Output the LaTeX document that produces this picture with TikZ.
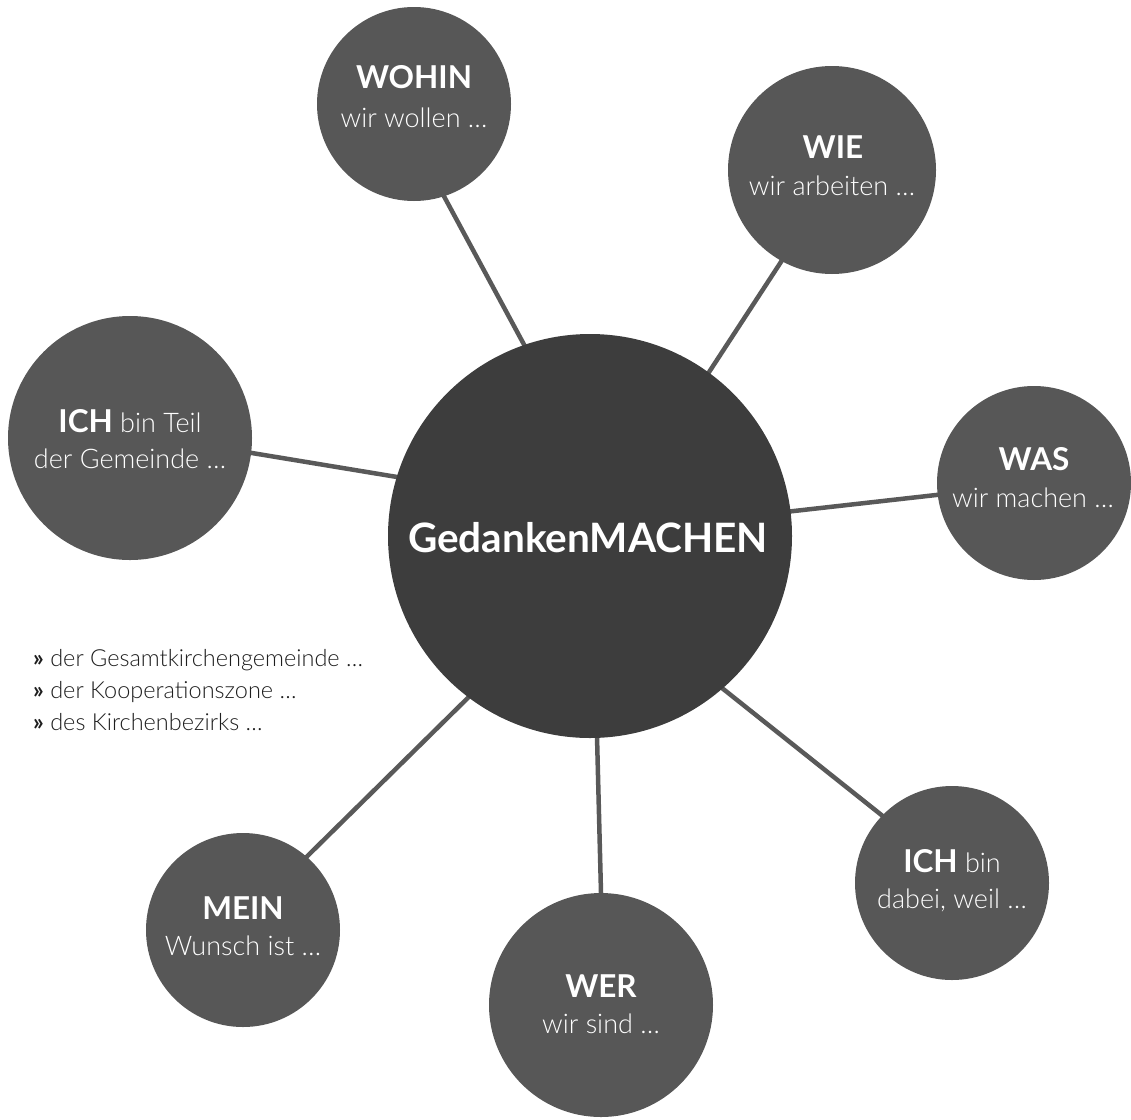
\documentclass[tikz,border=0pt]{standalone}
\usepackage{fontspec}
\setmainfont{Lato}[UprightFont=* Light, BoldFont=* Bold]
\usetikzlibrary{backgrounds}
\definecolor{hubgray}{HTML}{3D3D3D}
\definecolor{bubblegray}{HTML}{575757}
\definecolor{linegray}{HTML}{595959}
\definecolor{listgray}{HTML}{1E1E1E}
\newcommand\hd[1]{{\bfseries\fontsize{31.5}{36}\selectfont #1}}
\begin{document}
\begin{tikzpicture}[x=1pt,y=-1pt,
  bubble/.style={circle, fill=bubblegray, inner sep=0pt, outer sep=0pt},
  hub/.style={circle, fill=hubgray, inner sep=0pt, outer sep=0pt},
  link/.style={draw=linegray, line width=4.5pt, shorten <=-4pt, shorten >=-4pt},
  head/.style={text=white, font=\bfseries\fontsize{31.5}{36}\selectfont, anchor=base, inner sep=0pt},
  sub/.style={text=white, font=\fontsize{27}{32}\selectfont, anchor=base, inner sep=0pt},
  hubtxt/.style={text=white, font=\bfseries\fontsize{40.5}{46}\selectfont, anchor=base, inner sep=0pt},
  listtxt/.style={text=listgray, font=\fontsize{23.5}{32}\selectfont, anchor=base west, inner sep=0pt}]
\useasboundingbox (0,0) rectangle (1131,1119);

\node[hub, minimum size=404pt] (hub) at (590,536) {};
\node[bubble, minimum size=194pt] (wohin) at (414,104) {};
\node[bubble, minimum size=208pt] (wie) at (832,170) {};
\node[bubble, minimum size=244pt] (teil) at (130,438) {};
\node[bubble, minimum size=194pt] (was) at (1034,483) {};
\node[bubble, minimum size=194pt] (dabei) at (952,883) {};
\node[bubble, minimum size=224pt] (wer) at (601,1005) {};
\node[bubble, minimum size=194pt] (mein) at (243,930) {};

\node[hubtxt] (hub-t) at (588,552) {GedankenMACHEN};

\node[head] (wohin-a) at (414,88) {WOHIN};
\node[sub] (wohin-b) at (414,127) {wir wollen …};
\node[head] (wie-a) at (833,158) {WIE};
\node[sub] (wie-b) at (832,195) {wir arbeiten …};
\node[sub] (teil-a) at (130,432) {\hd{ICH} bin Teil};
\node[sub] (teil-b) at (130,468) {der Gemeinde …};
\node[head] (was-a) at (1034,470) {WAS};
\node[sub] (was-b) at (1033,507) {wir machen …};
\node[sub] (dabei-a) at (952,872) {\hd{ICH} bin};
\node[sub] (dabei-b) at (952,908) {dabei, weil …};
\node[head] (wer-a) at (601,997) {WER};
\node[sub] (wer-b) at (601,1033) {wir sind …};
\node[head] (mein-a) at (243,919) {MEIN};
\node[sub] (mein-b) at (243,955) {Wunsch ist …};

\node[listtxt] (l1) at (33,666) {{\bfseries »} der Gesamtkirchengemeinde …};
\node[listtxt] (l2) at (33,698) {{\bfseries »} der Kooperationszone …};
\node[listtxt] (l3) at (33,730) {{\bfseries »} des Kirchenbezirks …};

\begin{scope}[on background layer]
\draw[link] (wohin.-72) -- (hub.109.7);
\draw[link] (wie.-119) -- (hub.54.3);
\draw[link] (teil.-7.5) -- (hub.163.7);
\draw[link] (was.-173.5) -- (hub.7.6);
\draw[link] (dabei.136) -- (hub.-49);
\draw[link] (wer.90.5) -- (hub.-88.6);
\draw[link] (mein.49.5) -- (hub.-127.8);
\end{scope}
\end{tikzpicture}
\end{document}
